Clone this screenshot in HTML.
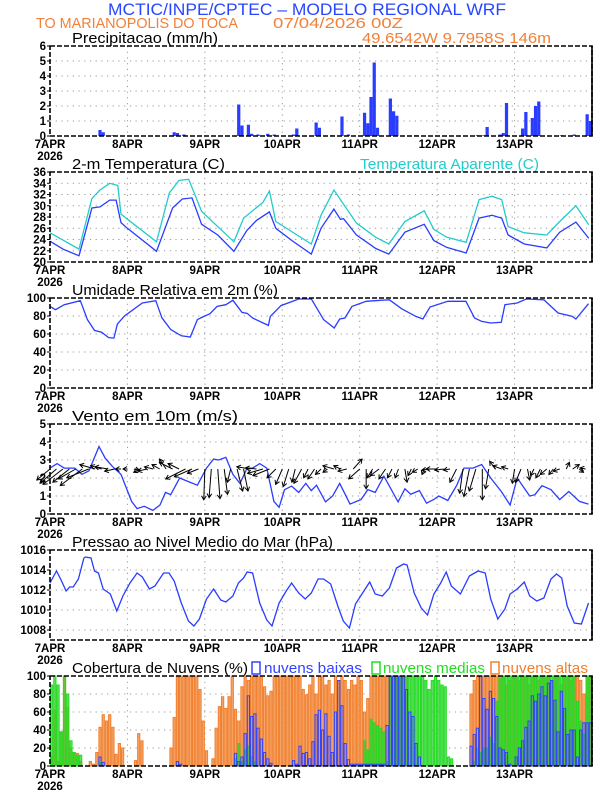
<!DOCTYPE html>
<html><head><meta charset="utf-8"><title>Meteograma WRF</title>
<style>
html,body{margin:0;padding:0;background:#fff;}
svg{display:block;font-family:"Liberation Sans",sans-serif;}
</style></head>
<body>
<svg id="chart" width="612" height="792" viewBox="0 0 612 792" xmlns="http://www.w3.org/2000/svg">
<text x="108" y="15" font-size="17" fill="#2846ff" textLength="398" lengthAdjust="spacingAndGlyphs">MCTIC/INPE/CPTEC – MODELO REGIONAL WRF</text>
<text x="36" y="28" font-size="15" fill="#f0803a" textLength="202" lengthAdjust="spacingAndGlyphs">TO MARIANOPOLIS DO TOCA</text>
<text x="273" y="28" font-size="15" fill="#f0803a" textLength="130" lengthAdjust="spacingAndGlyphs">07/04/2026 00Z</text>
<text x="362" y="43" font-size="15" fill="#f0803a" textLength="189" lengthAdjust="spacingAndGlyphs">49.6542W 9.7958S 146m</text>
<g id="plots"></g>
</svg>
<script>
// ---------- data ----------
const dayLabels = ["7APR","8APR","9APR","10APR","11APR","12APR","13APR"];
const precipHours = [15,16,19,38,39,41,58,59,61,62,64,67,69,75,76,82,83,87,90,92,97,98,99,100,101,105,106,107,113,132,134,135,139,140,141,146,147,149,150,151,158,162,166,167];
const precipValues = [0.4,0.25,0.05,0.25,0.2,0.1,2.1,0.7,0.75,0.15,0.1,0.15,0.1,0.1,0.5,0.9,0.55,0.05,1.3,0.1,1.55,0.85,2.6,4.9,0.55,2.5,1.65,1.35,0.05,0.05,0.05,0.6,0.1,0.2,2.2,0.5,1.6,1.2,2.0,2.3,0.05,0.1,1.45,1.0];

const tempHours = [0,4,9,13,15.5,18.5,20.5,22,24,33,38,41,44,47,52,57,61,64,68,70,75,81,84,88,90,91,95,101,105,110,116,119,123,129,133,137,140,142,147,154,158,163,167];
const tempValues = [23.7,22.3,21.1,29.6,29.8,31,31,27,26,21.9,29.6,31.2,31.4,26.7,24.8,21.9,25.6,27.4,28.9,26,23.8,21.4,26,29.4,27.6,27.7,24.8,22.4,21.4,25.3,26.7,23.8,22.6,21.6,27.8,28.3,27.8,24.8,23.2,22.5,25.3,27.1,24.2];
const appHours = [0,9,13,15.5,18.5,21,22,33,37,40,43,47,57,60,66,68,70,81,84,88,90,95,101,105,110,116,119,123,129,133,137,140,142,147,154,158,163,167];
const appValues = [25.2,22.3,31.3,32.8,34,33.6,28.5,23.6,32.3,34.5,34.7,29,23.6,27.8,30.6,32.6,27.2,23.2,28.3,32.8,31.1,26.9,24.4,23.2,27.2,29.1,25.8,24.4,23.5,31.1,31.7,31.1,26.3,25.2,24.8,27.2,30,26.6];

const rhHours = [0,1.7,4.4,9.4,11.6,13.8,16,18.2,19.8,20.9,23.1,28.6,32.8,34.7,37.4,40.7,43.5,45.7,47.4,49.6,51.8,54.5,56.7,59.5,61.1,62.8,67.7,68.3,71.6,77.1,81,84.8,88.1,89.8,91.4,93.6,98,102.4,105.2,109,113.4,115.6,117.8,123.3,128.9,131.6,133.8,136.6,139.9,141,144.8,147.6,153.1,157.5,161.9,163,166.9];
const rhValues = [90.7,87,92.6,97,76,64,62,56,55.5,71,80,94.4,97,78,65,58,56.7,76,79,82.6,90.7,92.6,97.4,84,83,77.8,69.6,79.6,91.5,98.9,99,76,66.7,76.7,77.8,90.7,96.3,97.4,98,88,79.6,76.7,90,96.3,96.3,77.8,74,72.2,73,92.6,94.4,98.9,98,83.3,79.6,76.7,93.7];

const windHours = [0,2.2,4.4,7.7,9.9,12.1,15.2,17.1,19.3,22,25.3,27,29.2,31.9,34.1,35.8,37.4,40.2,42.9,45.7,48.5,50.7,52.3,54.5,56.7,58.9,61.1,62.8,65,67.2,69.4,71,72.7,74.9,77.1,79.3,81,82.6,85.4,87.6,89.8,93,96.4,98.5,100.8,103.5,107.9,110,111.8,114.5,116.7,118.9,120.5,123.3,126.1,128.3,131.1,133.8,136.6,139.9,142.6,144.8,148.7,150.3,152.5,155.3,158,160.8,164.1,166.9];
const windSpeed = [2.55,2.8,2.55,2.55,2.2,2.4,3.75,3.1,2.65,2.2,0.7,0.3,0.43,0.2,0.5,1.2,1.07,2,1.8,1.6,2.55,3.05,3,3.15,2.2,1.7,2.55,2.55,2.8,2.55,0.7,0.37,1.35,1.55,1.2,1.7,1.3,1.6,0.67,1,1.7,0.55,0.8,1.35,1.2,2.1,0.67,1.4,1.1,1.3,0.6,0.8,1,0.75,1.6,2.55,2.55,2.75,2,1.25,0.5,2,1,1.07,1.57,1.35,0.8,1.25,0.7,0.55];
const vecU = [-1.2,-1.5,-1.8,-1.5,-1.6,-2.0,-2.0,-1.4,-1.0,-1.2,-0.9,-0.5,-0.4,0.5,-0.6,-0.8,-0.8,-0.7,-0.6,-1.2,-1.0,-1.8,-1.6,-1.0,-0.1,-0.2,0.2,0.3,-0.3,0.5,0.4,-1.2,-1.0,-1.4,-1.5,-0.8,-0.6,-0.5,-0.3,-0.7,-0.4,-0.6,-0.5,-0.4,-1.0,-0.6,-0.8,0.8,-1.0,0.0,-0.5,-0.8,-0.6,-0.4,-0.3,0.2,-0.3,-0.5,-0.2,-0.8,-1.0,-0.8,-0.6,-0.6,-0.3,-0.5,-0.6,0,-0.3,-0.5,-0.8,-0.6,-0.2,-0.5,0.2,-0.3,-0.4,-0.6,-0.4,-0.6,0.3,0.6,0.4,-0.5];
const vecV = [-1.0,-1.3,-1.4,-1.2,-0.9,-1.5,-0.8,0.4,0.3,0.2,-0.2,0,0,-0.1,-0.3,-0.2,0.2,0.4,0.9,0.6,0.5,-0.9,-0.7,-0.4,-2.8,-2.6,-2.7,-2.3,-1.2,-2.0,-2.0,0.2,0.1,-0.4,-0.6,-0.8,-1.4,-1.6,-1.2,-1.3,-0.8,-0.9,-0.5,-0.3,0.3,0.3,-0.2,0.9,-0.9,-1.8,-0.8,-0.6,-0.9,-0.8,-0.8,-1.2,-0.6,-0.3,-0.5,-0.1,0,-0.1,-0.1,-1.2,-2.2,-2.5,-2.0,-2.8,-1.8,0.7,0.3,0.2,-1.3,-1.2,-1.0,-0.6,-0.8,-0.5,-0.5,-0.2,0.6,0.4,-0.3,0.1];

const presHours = [0,2,3.3,5,6.1,7.2,8.8,10.5,11,12.7,13.8,15,16.5,18.7,20.7,22.6,24.8,27,28.6,30.8,32.5,35.2,36.9,38.5,40.7,42.9,44.6,46.3,48.5,50.7,52.9,54.5,56.7,58.4,60,61.1,62.8,65,67.2,68.8,71,73.2,74.9,77.1,79.1,81,83.1,84.8,87,89.2,90.9,92.8,94.7,96.9,99.1,100.8,103,105.2,107.4,109.6,110.7,112.9,115.1,117,119,121.1,122.8,124.4,127.2,130,132.7,134.9,136.6,138.8,141,142.6,144.8,147,148.7,150.9,153.1,155.3,157,158.6,160.3,162.5,164.7,166.9];
const presValues = [1012.7,1013.9,1013.1,1011.9,1012.3,1012.3,1013.1,1015.2,1015.3,1015.2,1013.9,1013.7,1012.1,1011.6,1009.9,1011.4,1012.7,1013.7,1013.3,1012.1,1012.4,1013.7,1013.7,1012.9,1010.7,1008.9,1008.4,1009.1,1011.1,1012.1,1011,1010.8,1011.4,1012.7,1013.2,1013.8,1013.7,1010.7,1009,1008.4,1010.7,1011.9,1012.7,1011.7,1011.1,1011.7,1013.1,1013.1,1012.6,1010.4,1008.9,1008.2,1010.6,1011.7,1012.8,1011.6,1011.4,1012.2,1014.2,1014.6,1014.5,1011.7,1010.2,1009.5,1011.6,1012.7,1013.8,1012.4,1011.6,1013.4,1013.9,1013.7,1011.1,1009.1,1010.1,1011.6,1012.1,1012.8,1011.4,1010.9,1011.2,1013.1,1013.6,1013.2,1010.4,1008.7,1008.6,1010.7];

const cloudLow = [0,0,0,0,0,0,0,0,0,0,0,0,0,0,0,10,4,0,0,0,0,0,0,0,0,0,0,0,0,0,0,0,0,0,0,0,0,0,0,5,2,0,0,0,0,0,0,0,0,0,0,0,0,0,0,0,0,14,5,10,36,78,55,58,42,30,15,8,3,0,0,0,0,0,0,6,2,22,14,15,8,27,57,62,40,58,33,15,60,95,67,25,7,2,2,2,2,2,2,2,2,2,2,2,45,100,100,100,100,100,85,60,55,25,10,0,0,0,0,0,0,0,0,0,0,0,0,0,0,0,22,35,42,100,75,63,83,75,55,20,18,15,2,0,10,20,28,43,50,78,72,80,88,78,92,95,73,38,83,64,35,40,40,10,40,48,48,48];
const cloudMid = [90,100,90,38,100,80,28,15,12,12,0,0,0,0,0,4,0,0,0,0,0,0,0,0,0,0,0,0,0,0,0,0,0,0,0,0,0,0,0,0,0,0,0,0,0,0,0,0,0,0,0,0,0,0,0,0,0,8,25,5,18,22,10,5,0,0,0,0,0,0,0,0,0,0,0,0,0,0,0,0,0,0,0,0,0,0,0,0,0,0,0,0,0,0,0,0,0,28,18,52,48,45,42,38,5,100,100,100,100,100,100,100,100,100,100,100,95,85,95,100,95,90,88,10,8,0,0,0,0,0,0,5,20,15,20,20,32,25,72,97,100,100,100,100,100,100,100,100,100,100,100,100,100,100,100,100,100,100,100,100,100,100,100,72,50,35,100,100];
const cloudHigh = [10,62,5,38,100,65,20,15,14,5,0,0,5,2,15,43,57,50,57,43,13,25,20,0,0,0,6,36,28,0,0,0,0,0,0,0,0,20,54,100,100,100,100,100,100,100,85,50,17,0,8,42,66,77,64,77,100,63,50,88,100,95,100,100,100,100,88,78,83,100,100,100,100,100,100,100,100,100,85,79,90,100,80,100,100,90,95,80,100,95,100,95,85,95,90,100,95,60,75,100,100,100,100,100,100,100,100,100,100,100,100,0,0,0,0,0,0,0,0,0,0,0,0,0,0,0,0,0,0,0,80,95,100,100,100,100,100,100,100,100,100,90,95,100,100,95,100,100,90,100,100,95,100,100,100,95,100,100,90,100,100,95,100,100,95,80,100,100];

// ---------- layout ----------
const NS = "http://www.w3.org/2000/svg";
const X0 = 50, X1 = 592, PH = 90, NH = 168;
const xAt = h => X0 + h * (X1 - X0) / NH;
const root = document.getElementById("plots");
function mk(tag, attrs, parent) {
  const e = document.createElementNS(NS, tag);
  for (const k in attrs) e.setAttribute(k, attrs[k]);
  (parent || root).appendChild(e);
  return e;
}
function panel(name, top, yMin, yMax, ticks) {
  const g = mk("g", {});
  
  
  const y = v => top + PH - (v - yMin) / (yMax - yMin) * PH;
  for (const t of ticks) {
    if (t > yMin && t < yMax) {
      const gl = mk("line", {x1: X0, x2: X1, y1: y(t), y2: y(t), stroke: "#999", "stroke-width": 1, "stroke-dasharray": "1.2,4.5"}, g);
      
      
    }
    const lbl = mk("text", {x: X0 - 4, y: y(t) + 4, "font-size": 11.5, "font-weight": "bold", "text-anchor": "end"}, g);
    lbl.textContent = t;
    
    
    mk("line", {x1: X0 - 3, x2: X0, y1: y(t), y2: y(t), stroke: "#000"}, g);
  }
  dayLabels.forEach((d, i) => {
    const xx = xAt(i * 24);
    if (i > 0) {
      const vl = mk("line", {x1: xx, x2: xx, y1: top, y2: top + PH, stroke: "#999", "stroke-dasharray": "1.2,4.5"}, g);
      
      
    }
    const tl = mk("text", {x: xx, y: top + PH + 12, "font-size": 11.5, "font-weight": "bold", "text-anchor": "middle"}, g);
    tl.textContent = d;
    
    
  });
  const yr = mk("text", {x: X0, y: top + PH + 24, "font-size": 11.5, "font-weight": "bold", "text-anchor": "middle"}, g);
  yr.textContent = "2026";
  
  
  return {g, y};
}
function frame(g, top) {
  const f = mk("rect", {x: X0, y: top, width: X1 - X0, height: PH, fill: "none", stroke: "#000", "stroke-width": 1.6, "stroke-dasharray": "5,2"}, g);
  
  
  mk("line", {x1: X1, x2: X1, y1: top, y2: top + PH, stroke: "#000", "stroke-width": 1.6}, g);
}
function title(g, txt, x, y, len, color) {
  const t = mk("text", {x: x, y: y, "font-size": 15, fill: color || "#000", textLength: len, lengthAdjust: "spacingAndGlyphs"}, g);
  t.textContent = txt;
  
  
  return t;
}
function line(g, hours, vals, yf, color, name) {
  const n = Math.min(hours.length, vals.length);
  let d = "";
  for (let i = 0; i < n; i++) d += (i ? "L" : "M") + xAt(hours[i]).toFixed(1) + "," + yf(vals[i]).toFixed(1);
  const p = mk("path", {d: d, fill: "none", stroke: color, "stroke-width": 1.3}, g);
  
  
}
const bw = (X1 - X0) / NH;

// Panel 1: precipitation
{
  const P = panel("precipitation", 46, 0, 6, [0,1,2,3,4,5,6]);
  title(P.g, "Precipitacao (mm/h)", 72, 43, 146);
  const n = Math.min(precipHours.length, precipValues.length);
  for (let i = 0; i < n; i++) {
    const r = mk("rect", {x: xAt(precipHours[i]), y: P.y(precipValues[i]), width: bw, height: P.y(0) - P.y(precipValues[i]), fill: "#2a3cff"}, P.g);
    
    
  }
  frame(P.g, 46);
}
// Panel 2: temperature
{
  const P = panel("temperature", 172, 20, 36, [20,22,24,26,28,30,32,34,36]);
  title(P.g, "2-m Temperatura (C)", 72, 169, 153);
  title(P.g, "Temperatura Aparente (C)", 360, 169, 179, "#22cccc");
  line(P.g, appHours, appValues, P.y, "#22cccc", "apparent-temp-line");
  line(P.g, tempHours, tempValues, P.y, "#2a3cff", "temp-line");
  frame(P.g, 172);
}
// Panel 3: humidity
{
  const P = panel("humidity", 298, 0, 100, [0,20,40,60,80,100]);
  title(P.g, "Umidade Relativa em 2m (%)", 72, 295, 206);
  line(P.g, rhHours, rhValues, P.y, "#2a3cff", "humidity-line");
  frame(P.g, 298);
}
// Panel 4: wind
{
  const P = panel("wind", 424, 0, 5, [0,1,2,3,4,5]);
  title(P.g, "Vento em 10m (m/s)", 72, 421, 166);
  line(P.g, windHours, windSpeed, P.y, "#2a3cff", "wind-speed-line");
  const base = P.y(2.5), sc = 11;
  const n = Math.min(vecU.length, vecV.length);
  for (let i = 0; i < n; i++) {
    const x0 = xAt(i * 2), x1 = x0 + vecU[i] * sc, y1 = base - vecV[i] * sc;
    const len = Math.hypot(x1 - x0, y1 - base);
    const a = mk("g", {}, P.g);
    
    
    mk("line", {x1: x0, y1: base, x2: x1, y2: y1, stroke: "#000", "stroke-width": 1}, a);
    if (len > 1) {
      const ux = (x1 - x0) / len, uy = (y1 - base) / len, h = 4;
      mk("path", {d: `M${x1 - ux*h - uy*h*0.6},${y1 - uy*h + ux*h*0.6}L${x1},${y1}L${x1 - ux*h + uy*h*0.6},${y1 - uy*h - ux*h*0.6}`, fill: "none", stroke: "#000"}, a);
    }
  }
  frame(P.g, 424);
}
// Panel 5: pressure
{
  const P = panel("pressure", 550, 1007, 1016, [1008,1010,1012,1014,1016]);
  title(P.g, "Pressao ao Nivel Medio do Mar (hPa)", 72, 547, 261);
  line(P.g, presHours, presValues, P.y, "#2a3cff", "pressure-line");
  frame(P.g, 550);
}
// Panel 6: clouds
{
  const P = panel("clouds", 676, 0, 100, [0,20,40,60,80,100]);
  title(P.g, "Cobertura de Nuvens (%)", 72, 673, 176);
  const series = [
    [cloudHigh, "rgba(245,160,95,0.95)", "#f08030", "cloud-high-bar"],
    [cloudMid, "rgba(40,205,40,0.7)", "#22dd22", "cloud-mid-bar"],
    [cloudLow, "rgba(60,80,255,0.12)", "#3344ff", "cloud-low-bar"]
  ];
  for (const [arr, fill, stroke, nm] of series) {
    for (let h = 0; h < arr.length; h++) {
      if (arr[h] <= 0) continue;
      const r = mk("rect", {x: xAt(h) + 0.5, y: P.y(arr[h]), width: bw - 1, height: P.y(0) - P.y(arr[h]), fill: fill, stroke: stroke, "stroke-width": 1}, P.g);
      
      
    }
  }
  const legend = [[252, "#3344ff", "nuvens baixas", 264, 98], [372, "#22dd22", "nuvens medias", 383, 102], [491, "#f08030", "nuvens altas", 502, 86]];
  for (const [bx, col, txt, tx, tl] of legend) {
    const lg = mk("g", {}, P.g);
    
    
    mk("rect", {x: bx, y: 662, width: 8, height: 12, fill: "none", stroke: col, "stroke-width": 1.5}, lg);
    const t = mk("text", {x: tx, y: 673, "font-size": 15, fill: col, textLength: tl, lengthAdjust: "spacingAndGlyphs"}, lg);
    t.textContent = txt;
  }
  frame(P.g, 676);
}
</script>
</body></html>
